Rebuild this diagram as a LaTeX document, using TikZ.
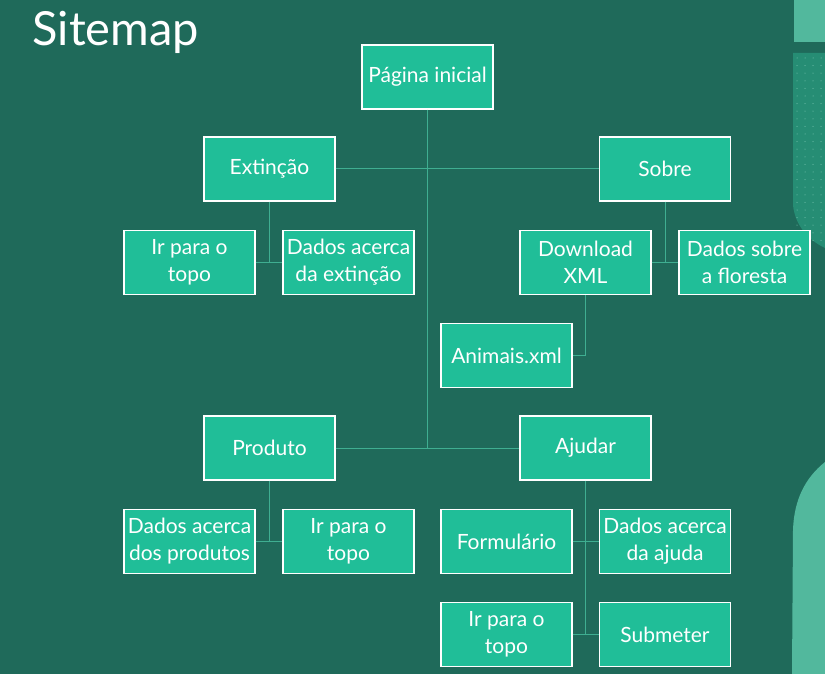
\documentclass[tikz,border=0pt]{standalone}
\usepackage{fontspec}
\setmainfont{Lato}
\usetikzlibrary{positioning}
\definecolor{fundo}{HTML}{1F6A5A}
\definecolor{caixa}{HTML}{20BE98}
\definecolor{linha}{HTML}{3FAE91}
\definecolor{claro}{HTML}{52B89D}
\definecolor{pontos}{HTML}{268D74}
\tikzset{
  caixa/.style={draw=white, line width=1.2pt, fill=caixa, text=white,
    minimum width=131pt, minimum height=64pt, inner sep=2pt,
    align=center, font=\fontsize{21}{27}\selectfont},
  ligacao/.style={draw=linha, line width=1pt}
}

\begin{document}
\begin{tikzpicture}[x=1pt,y=-1pt]
        \fill[fundo] (0,0) rectangle (825,674);
        \useasboundingbox (0,0) rectangle (825,674);
        \fill[claro] (794,0) rectangle (825,42);
        \fill[pontos] (793,53) -- (825,53) -- (825,248) .. controls (808,240) and (795,225) .. (793,205) -- cycle;
        \foreach \i in {0,...,3} {
            \foreach \j in {0,...,24} {
                \fill[claro!70!white] (797+\i*8,58+\j*7.6) circle (0.5);
            }
        }
        \fill[claro] (825,462) .. controls (805,478) and (794,500) .. (793,530) -- (792,674) -- (825,674) -- cycle;
        \node[anchor=west, text=white, font=\fontsize{47}{50}\selectfont] (titulo) at (29,32) {Sitemap};

        \node[caixa] (pagina) at (427.5,77) {Página inicial};
        \node[caixa] (extincao) at (269.5,169) {Extinção};
        \node[caixa] (sobre) at (665,169) {Sobre};
        \node[caixa] (irext) at (189.5,262.5) {Ir para o\\topo};
        \node[caixa] (dadosext) at (348.5,262.5) {Dados acerca\\da extinção};
        \node[caixa] (download) at (585.5,262.5) {Download\\XML};
        \node[caixa] (dadosflor) at (744.5,262.5) {Dados sobre\\a floresta};
        \node[caixa] (animais) at (506.5,355.5) {Animais.xml};
        \node[caixa] (produto) at (269.5,448) {Produto};
        \node[caixa] (ajudar) at (585.5,448) {Ajudar};
        \node[caixa] (dadosprod) at (189.5,541.5) {Dados acerca\\dos produtos};
        \node[caixa] (irprod) at (348.5,541.5) {Ir para o\\topo};
        \node[caixa] (formulario) at (506.5,541.5) {Formulário};
        \node[caixa] (dadosajuda) at (665,541.5) {Dados acerca\\da ajuda};
        \node[caixa] (irajuda) at (506.5,634.5) {Ir para o\\topo};
        \node[caixa] (submeter) at (665,634.5) {Submeter};

        \draw[ligacao] (pagina.south) -- (pagina.south |- produto.east);
        \draw[ligacao] (extincao.east) -- (sobre.west);
        \draw[ligacao] (produto.east) -- (ajudar.west);
        \draw[ligacao] (extincao.south) -- (extincao.south |- irext.east);
        \draw[ligacao] (irext.east) -- (dadosext.west);
        \draw[ligacao] (sobre.south) -- (sobre.south |- download.east);
        \draw[ligacao] (download.east) -- (dadosflor.west);
        \draw[ligacao] (download.south) |- (animais.east);
        \draw[ligacao] (produto.south) -- (produto.south |- dadosprod.east);
        \draw[ligacao] (dadosprod.east) -- (irprod.west);
        \draw[ligacao] (ajudar.south) -- (ajudar.south |- irajuda.east);
        \draw[ligacao] (formulario.east) -- (dadosajuda.west);
        \draw[ligacao] (irajuda.east) -- (submeter.west);
    \end{tikzpicture}
\end{document}
